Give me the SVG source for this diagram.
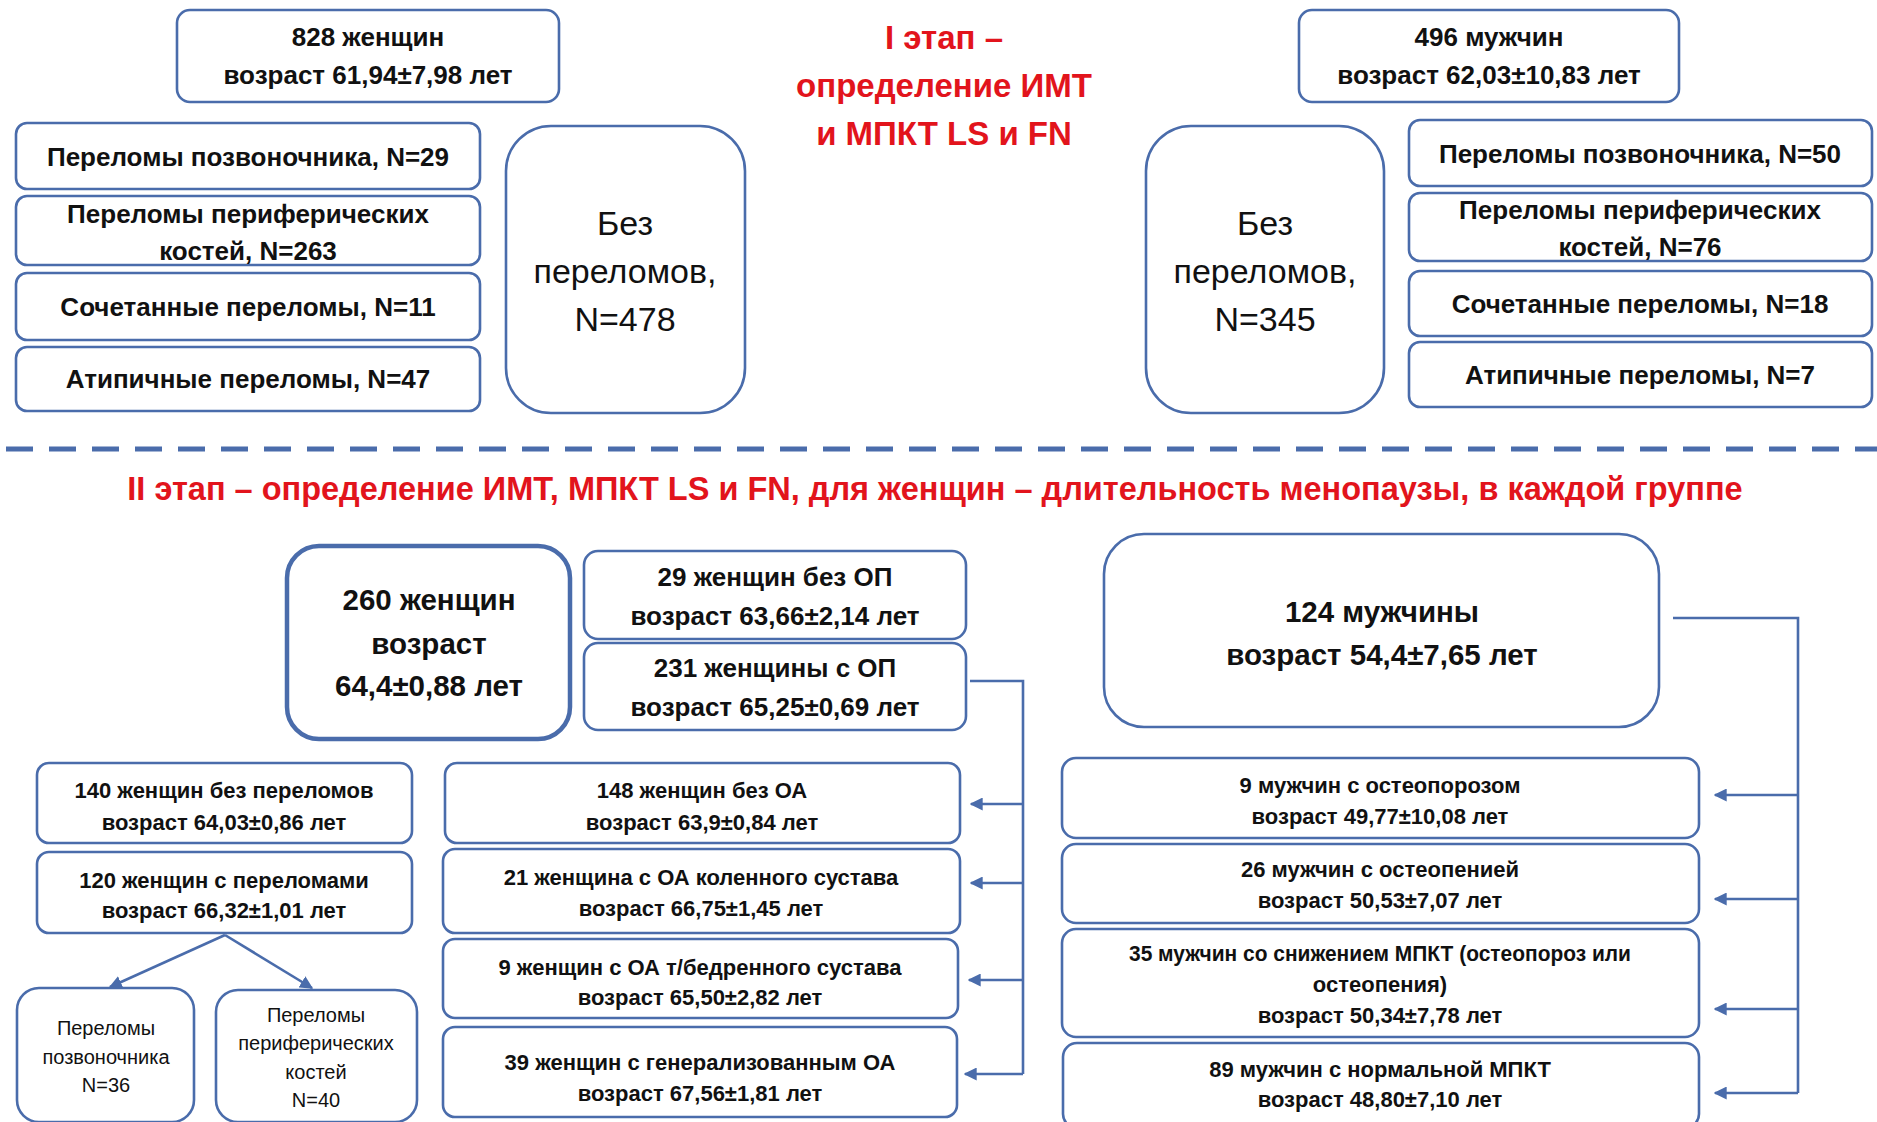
<svg xmlns="http://www.w3.org/2000/svg" width="1877" height="1122" viewBox="0 0 1877 1122">
  <defs>
    <style>
      .box { fill: #ffffff; stroke: #4a6cab; stroke-width: 2.6; }
      .thick { stroke-width: 4.5; }
      .t { font-family: "Liberation Sans", Arial, sans-serif; font-weight: bold; fill: #111111; text-anchor: middle; }
      .r { font-family: "Liberation Sans", Arial, sans-serif; font-weight: normal; fill: #111111; text-anchor: middle; }
      .red { font-family: "Liberation Sans", Arial, sans-serif; font-weight: bold; fill: #e2141c; text-anchor: middle; }
      .f26 { font-size: 26px; }
      .f22 { font-size: 22px; }
      .f20 { font-size: 20px; }
      .f29 { font-size: 29.5px; }
      .f34 { font-size: 34px; }
      .line { fill: none; stroke: #4a6cab; stroke-width: 2.6; }
    </style>
    <marker id="arrow" viewBox="0 0 10 10" refX="9" refY="5" markerWidth="5" markerHeight="5" orient="auto-start-reverse" markerUnits="strokeWidth">
      <path d="M0,0 L10,5 L0,10 z" fill="#4a6cab"/>
    </marker>
  </defs>

  <rect width="1877" height="1122" fill="#ffffff"/>

  <!-- Stage I titles -->
  <g id="title-stage1">
    <text class="red" font-size="33" x="944" y="49">I этап –</text>
    <text class="red" font-size="33" x="944" y="97">определение ИМТ</text>
    <text class="red" font-size="33" x="944" y="145">и МПКТ LS и FN</text>
  </g>

  <!-- Stage I, women -->
  <g id="women-828">
    <rect class="box" x="177" y="10" width="382" height="92" rx="13"/>
    <text class="t f26" x="368" y="46">828 женщин</text>
    <text class="t f26" x="368" y="84">возраст 61,94±7,98 лет</text>
  </g>
  <g id="w-spine">
    <rect class="box" x="16" y="123" width="464" height="66" rx="11"/>
    <text class="t f26" x="248" y="166">Переломы позвоночника, N=29</text>
  </g>
  <g id="w-periph">
    <rect class="box" x="16" y="196" width="464" height="69" rx="11"/>
    <text class="t f26" x="248" y="223">Переломы периферических</text>
    <text class="t f26" x="248" y="260">костей, N=263</text>
  </g>
  <g id="w-combined">
    <rect class="box" x="16" y="273" width="464" height="67" rx="11"/>
    <text class="t f26" x="248" y="316">Сочетанные переломы, N=11</text>
  </g>
  <g id="w-atypical">
    <rect class="box" x="16" y="347" width="464" height="64" rx="11"/>
    <text class="t f26" x="248" y="388">Атипичные переломы, N=47</text>
  </g>
  <g id="w-nofract">
    <rect class="box" x="506" y="126" width="239" height="287" rx="45"/>
    <text class="r f34" x="625" y="235">Без</text>
    <text class="r f34" x="625" y="283">переломов,</text>
    <text class="r f34" x="625" y="331">N=478</text>
  </g>

  <!-- Stage I, men -->
  <g id="men-496">
    <rect class="box" x="1299" y="10" width="380" height="92" rx="13"/>
    <text class="t f26" x="1489" y="46">496 мужчин</text>
    <text class="t f26" x="1489" y="84">возраст 62,03±10,83 лет</text>
  </g>
  <g id="m-nofract">
    <rect class="box" x="1146" y="126" width="238" height="287" rx="45"/>
    <text class="r f34" x="1265" y="235">Без</text>
    <text class="r f34" x="1265" y="283">переломов,</text>
    <text class="r f34" x="1265" y="331">N=345</text>
  </g>
  <g id="m-spine">
    <rect class="box" x="1409" y="120" width="463" height="66" rx="11"/>
    <text class="t f26" x="1640" y="163">Переломы позвоночника, N=50</text>
  </g>
  <g id="m-periph">
    <rect class="box" x="1409" y="193" width="463" height="68" rx="11"/>
    <text class="t f26" x="1640" y="219">Переломы периферических</text>
    <text class="t f26" x="1640" y="256">костей, N=76</text>
  </g>
  <g id="m-combined">
    <rect class="box" x="1409" y="271" width="463" height="65" rx="11"/>
    <text class="t f26" x="1640" y="313">Сочетанные переломы, N=18</text>
  </g>
  <g id="m-atypical">
    <rect class="box" x="1409" y="342" width="463" height="65" rx="11"/>
    <text class="t f26" x="1640" y="384">Атипичные переломы, N=7</text>
  </g>

  <!-- Divider between stages -->
  <line x1="6" y1="449" x2="1877" y2="449" stroke="#4a6cab" stroke-width="5" stroke-dasharray="27 16"/>

  <!-- Stage II title -->
  <g id="title-stage2">
    <text class="red" font-size="32.5" x="935" y="500">II этап – определение ИМТ, МПКТ LS и FN, для женщин – длительность менопаузы, в каждой группе</text>
  </g>

  <!-- Stage II, women -->
  <g id="women-260">
    <rect class="box thick" x="287" y="546" width="283" height="193" rx="32"/>
    <text class="t f29" x="429" y="610">260 женщин</text>
    <text class="t f29" x="429" y="654">возраст</text>
    <text class="t f29" x="429" y="696">64,4±0,88 лет</text>
  </g>
  <g id="w-no-op">
    <rect class="box" x="584" y="551" width="382" height="88" rx="14"/>
    <text class="t f26" x="775" y="586">29 женщин без ОП</text>
    <text class="t f26" x="775" y="625">возраст 63,66±2,14 лет</text>
  </g>
  <g id="w-op">
    <rect class="box" x="584" y="643" width="382" height="87" rx="14"/>
    <text class="t f26" x="775" y="677">231 женщины с ОП</text>
    <text class="t f26" x="775" y="716">возраст 65,25±0,69 лет</text>
  </g>
  <g id="w-140">
    <rect class="box" x="37" y="763" width="375" height="80" rx="12"/>
    <text class="t f22" x="224" y="798">140 женщин без переломов</text>
    <text class="t f22" x="224" y="830">возраст 64,03±0,86 лет</text>
  </g>
  <g id="w-120">
    <rect class="box" x="37" y="852" width="375" height="81" rx="12"/>
    <text class="t f22" x="224" y="888">120 женщин с переломами</text>
    <text class="t f22" x="224" y="918">возраст 66,32±1,01 лет</text>
  </g>
  <g id="w-spine-36">
    <rect class="box" x="17" y="988" width="177" height="134" rx="22"/>
    <text class="r f20" x="106" y="1035">Переломы</text>
    <text class="r f20" x="106" y="1064">позвоночника</text>
    <text class="r f20" x="106" y="1092">N=36</text>
  </g>
  <g id="w-periph-40">
    <rect class="box" x="216" y="990" width="201" height="132" rx="22"/>
    <text class="r f20" x="316" y="1022">Переломы</text>
    <text class="r f20" x="316" y="1050">периферических</text>
    <text class="r f20" x="316" y="1079">костей</text>
    <text class="r f20" x="316" y="1107">N=40</text>
  </g>
  <g id="w-no-oa">
    <rect class="box" x="445" y="763" width="515" height="80" rx="12"/>
    <text class="t f22" x="702" y="798">148 женщин без ОА</text>
    <text class="t f22" x="702" y="830">возраст 63,9±0,84 лет</text>
  </g>
  <g id="w-knee">
    <rect class="box" x="443" y="849" width="517" height="84" rx="12"/>
    <text class="t f22" x="701" y="885">21 женщина с ОА коленного сустава</text>
    <text class="t f22" x="701" y="916">возраст 66,75±1,45 лет</text>
  </g>
  <g id="w-hip">
    <rect class="box" x="443" y="939" width="515" height="79" rx="12"/>
    <text class="t f22" x="700" y="975">9 женщин с ОА т/бедренного сустава</text>
    <text class="t f22" x="700" y="1005">возраст 65,50±2,82 лет</text>
  </g>
  <g id="w-general">
    <rect class="box" x="443" y="1027" width="514" height="90" rx="12"/>
    <text class="t f22" x="700" y="1070">39 женщин с генерализованным ОА</text>
    <text class="t f22" x="700" y="1101">возраст 67,56±1,81 лет</text>
  </g>

  <!-- Stage II, men -->
  <g id="men-124">
    <rect class="box" x="1104" y="534" width="555" height="193" rx="40"/>
    <text class="t f29" x="1382" y="622">124 мужчины</text>
    <text class="t f29" x="1382" y="665">возраст  54,4±7,65 лет</text>
  </g>
  <g id="m-op">
    <rect class="box" x="1062" y="758" width="637" height="80" rx="14"/>
    <text class="t f22" x="1380" y="793">9 мужчин с остеопорозом</text>
    <text class="t f22" x="1380" y="824">возраст 49,77±10,08 лет</text>
  </g>
  <g id="m-openia">
    <rect class="box" x="1062" y="844" width="637" height="79" rx="14"/>
    <text class="t f22" x="1380" y="877">26 мужчин с остеопенией</text>
    <text class="t f22" x="1380" y="908">возраст 50,53±7,07 лет</text>
  </g>
  <g id="m-reduced">
    <rect class="box" x="1062" y="929" width="637" height="108" rx="14"/>
    <text class="t f22" x="1380" y="961" textLength="502" lengthAdjust="spacingAndGlyphs">35 мужчин со снижением МПКТ (остеопороз или</text>
    <text class="t f22" x="1380" y="992">остеопения)</text>
    <text class="t f22" x="1380" y="1023">возраст 50,34±7,78 лет</text>
  </g>
  <g id="m-normal">
    <rect class="box" x="1063" y="1043" width="636" height="85" rx="14"/>
    <text class="t f22" x="1380" y="1077">89 мужчин с нормальной МПКТ</text>
    <text class="t f22" x="1380" y="1107">возраст 48,80±7,10 лет</text>
  </g>

  <!-- Connectors -->
  <g id="connectors">
    <!-- women: 231 with OP to OA groups -->
    <polyline class="line" points="970,681 1023,681 1023,1074"/>
    <line class="line" x1="1023" y1="804" x2="971" y2="804" marker-end="url(#arrow)"/>
    <line class="line" x1="1023" y1="883" x2="971" y2="883" marker-end="url(#arrow)"/>
    <line class="line" x1="1023" y1="980" x2="969" y2="980" marker-end="url(#arrow)"/>
    <line class="line" x1="1023" y1="1074" x2="965" y2="1074" marker-end="url(#arrow)"/>
    <!-- women: 120 with fractures split -->
    <line class="line" x1="225" y1="935" x2="110" y2="987" marker-end="url(#arrow)"/>
    <line class="line" x1="225" y1="935" x2="312" y2="988" marker-end="url(#arrow)"/>
    <!-- men: 124 to BMD groups -->
    <polyline class="line" points="1673,618 1798,618 1798,1093"/>
    <line class="line" x1="1798" y1="795" x2="1715" y2="795" marker-end="url(#arrow)"/>
    <line class="line" x1="1798" y1="899" x2="1715" y2="899" marker-end="url(#arrow)"/>
    <line class="line" x1="1798" y1="1009" x2="1715" y2="1009" marker-end="url(#arrow)"/>
    <line class="line" x1="1798" y1="1093" x2="1715" y2="1093" marker-end="url(#arrow)"/>
  </g>
</svg>
